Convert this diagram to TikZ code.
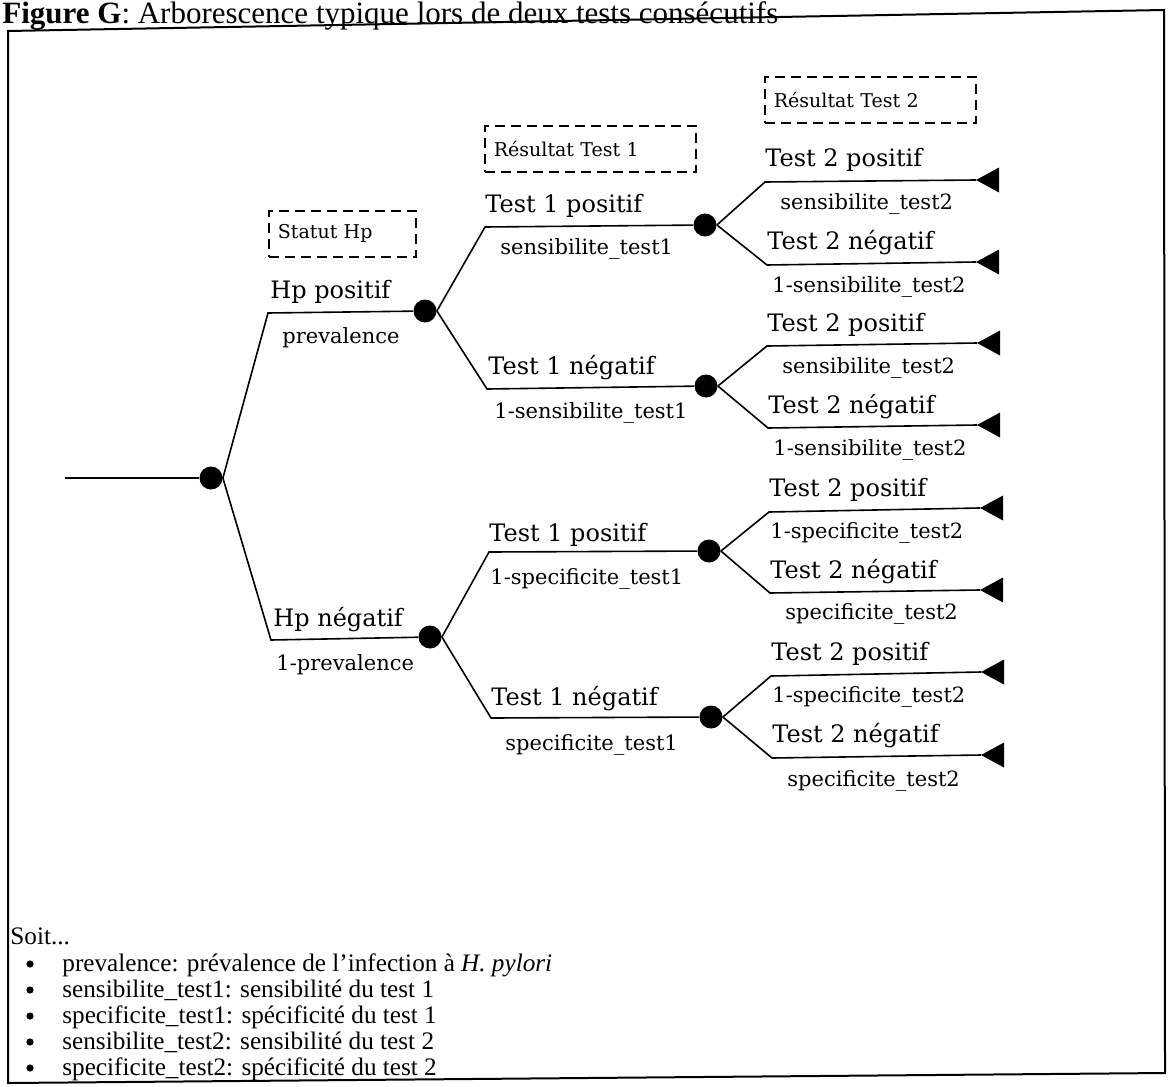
\documentclass[tikz,border=0pt]{standalone}
\usepackage{fontspec}
\setmainfont{Liberation Serif}
\newfontfamily\treefont{DejaVu Serif}
\begin{document}
\begin{tikzpicture}[x=0.5pt,y=-0.5pt,
  branch/.style={line width=0.8pt},
  frameline/.style={line width=1pt},
  chance/.style={circle,fill=black,inner sep=0pt,minimum size=11.5pt},
  outcome/.style={anchor=base west,inner sep=0pt,font=\treefont\fontsize{12}{14}\selectfont},
  prob/.style={anchor=base west,inner sep=0pt,font=\treefont\fontsize{10.5}{12}\selectfont},
  tagbox/.style={draw,dash pattern=on 5pt off 3pt,line width=0.9pt,anchor=north west,
    inner xsep=4.5pt,inner ysep=0pt,minimum height=23pt,align=left,
    font=\treefont\fontsize{9.5}{11}\selectfont},
  legend/.style={anchor=base west,inner sep=0pt,font=\fontsize{12.6}{15}\selectfont},
  bulletdot/.style={circle,fill=black,inner sep=0pt,minimum size=3.6pt},
  leaf/.pic={\fill (0,0) -- (23,-12.5) -- (23,12.5) -- cycle;}]
\useasboundingbox (0,0) rectangle (1171,1086);

% title and outer frame
\node[anchor=base west,inner sep=0pt,font=\fontsize{15.5}{18}\selectfont] (title) at (2,23.5)
  {\textbf{Figure G}: Arborescence typique lors de deux tests consécutifs};
\draw[frameline] (8,31) -- (1164,10) -- (1165,1073) -- (8,1083) -- cycle;

% column headers
\node[tagbox,text width=64.5pt] (hdr1) at (268,210) {Statut Hp};
\node[tagbox,text width=96.5pt] (hdr2) at (484,125) {Résultat Test 1};
\node[tagbox,text width=96.5pt] (hdr3) at (764,76) {Résultat Test 2};

% root
\coordinate (start) at (65,478);
\node[chance] (r) at (211,478) {};
\draw[branch] (start) -- (r);

% level 1: Hp status
\coordinate (hpp) at (268,313);
\coordinate (hpn) at (271,640);
\node[chance] (d1) at (425,311) {};
\node[chance] (d2) at (430,637) {};
\draw[branch] (r.east) -- (hpp) -- (d1);
\draw[branch] (r.east) -- (hpn) -- (d2);
\node[outcome] (l-hpp) at (270,298) {Hp positif};
\node[prob] (p-hpp) at (282,343) {prevalence};
\node[outcome] (l-hpn) at (273,626) {Hp négatif};
\node[prob] (p-hpn) at (276,670) {1-prevalence};

% level 2: first test
\coordinate (a1) at (485,227);
\coordinate (a2) at (487,389);
\coordinate (a3) at (489,552);
\coordinate (a4) at (491,718);
\node[chance] (d11) at (705,225) {};
\node[chance] (d12) at (706,386) {};
\node[chance] (d21) at (709,551) {};
\node[chance] (d22) at (711,717) {};
\draw[branch] (d1.east) -- (a1) -- (d11);
\draw[branch] (d1.east) -- (a2) -- (d12);
\draw[branch] (d2.east) -- (a3) -- (d21);
\draw[branch] (d2.east) -- (a4) -- (d22);
\node[outcome] (l-a1) at (485,212) {Test 1 positif};
\node[prob]    (p-a1) at (500,254) {sensibilite\_test1};
\node[outcome] (l-a2) at (488,374) {Test 1 négatif};
\node[prob]    (p-a2) at (494,418) {1-sensibilite\_test1};
\node[outcome] (l-a3) at (489,541) {Test 1 positif};
\node[prob]    (p-a3) at (490,584) {1-specificite\_test1};
\node[outcome] (l-a4) at (491,705) {Test 1 négatif};
\node[prob]    (p-a4) at (505,750) {specificite\_test1};

% level 3: second test, ending in terminal nodes
\coordinate (b1) at (765,182); \coordinate (e1) at (976,180);
\coordinate (b2) at (767,265); \coordinate (e2) at (976,262);
\coordinate (b3) at (767,346); \coordinate (e3) at (977,343);
\coordinate (b4) at (768,428); \coordinate (e4) at (977,425);
\coordinate (b5) at (769,512); \coordinate (e5) at (980,508);
\coordinate (b6) at (770,593); \coordinate (e6) at (980,590);
\coordinate (b7) at (771,676); \coordinate (e7) at (981,672);
\coordinate (b8) at (772,758); \coordinate (e8) at (981,755);
\draw[branch] (d11.east) -- (b1) -- (e1);
\draw[branch] (d11.east) -- (b2) -- (e2);
\draw[branch] (d12.east) -- (b3) -- (e3);
\draw[branch] (d12.east) -- (b4) -- (e4);
\draw[branch] (d21.east) -- (b5) -- (e5);
\draw[branch] (d21.east) -- (b6) -- (e6);
\draw[branch] (d22.east) -- (b7) -- (e7);
\draw[branch] (d22.east) -- (b8) -- (e8);
\foreach \e in {e1,e2,e3,e4,e5,e6,e7,e8} \path (\e) pic {leaf};

\node[outcome] (l-b1) at (765,166) {Test 2 positif};
\node[prob]    (p-b1) at (780,209) {sensibilite\_test2};
\node[outcome] (l-b2) at (767,249) {Test 2 négatif};
\node[prob]    (p-b2) at (772,292) {1-sensibilite\_test2};
\node[outcome] (l-b3) at (767,331) {Test 2 positif};
\node[prob]    (p-b3) at (782,373) {sensibilite\_test2};
\node[outcome] (l-b4) at (768,413) {Test 2 négatif};
\node[prob]    (p-b4) at (773,455) {1-sensibilite\_test2};
\node[outcome] (l-b5) at (769,496) {Test 2 positif};
\node[prob]    (p-b5) at (770,538) {1-specificite\_test2};
\node[outcome] (l-b6) at (770,578) {Test 2 négatif};
\node[prob]    (p-b6) at (785,619) {specificite\_test2};
\node[outcome] (l-b7) at (771,660) {Test 2 positif};
\node[prob]    (p-b7) at (772,702) {1-specificite\_test2};
\node[outcome] (l-b8) at (772,742) {Test 2 négatif};
\node[prob]    (p-b8) at (787,786) {specificite\_test2};

% legend
\node[legend] (soit) at (10,944) {Soit...};
\foreach \n/\y/\t in {
  1/971/{prevalence: prévalence de l’infection à \textit{H. pylori}},
  2/997/{sensibilite\_test1: sensibilité du test 1},
  3/1023/{specificite\_test1: spécificité du test 1},
  4/1049/{sensibilite\_test2: sensibilité du test 2},
  5/1075/{specificite\_test2: spécificité du test 2}}{
  \node[bulletdot] (bul\n) at (30,\y-7) {};
  \node[legend] (item\n) at (62,\y) {\t};
}
\end{tikzpicture}
\end{document}
